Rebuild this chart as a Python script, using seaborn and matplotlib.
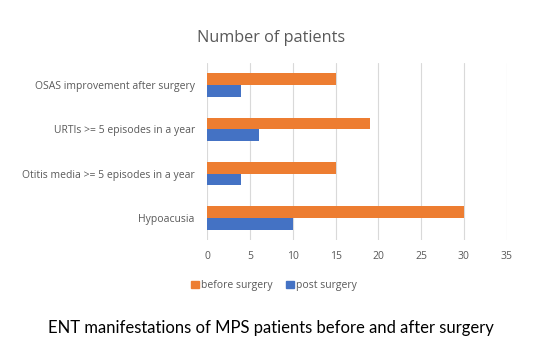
import numpy as np
import pandas as pd
import matplotlib
matplotlib.use("Agg")
import matplotlib.pyplot as plt
import seaborn as sns

categories = ["OSAS improvement after surgery", "URTIs >= 5 episodes in a year",
              "Otitis media >= 5 episodes in a year", "Hypoacusia"]
before_surgery = [15, 19, 15, 30]
post_surgery = [4, 6, 4, 10]
series_names = ["before surgery", "post surgery"]
x_ticks = [0, 5, 10, 15, 20, 25, 30, 35]

df = pd.DataFrame({
    "category": categories * 2,
    "value": before_surgery + post_surgery,
    "series": [series_names[0]] * 4 + [series_names[1]] * 4,
})

sns.set_style("white")
plt.rcParams["font.family"] = ["Open Sans", "DejaVu Sans"]
grey = "#595959"
colors = {"before surgery": "#ED7D31", "post surgery": "#4472C4"}

fig = plt.figure(figsize=(5.44, 3.57), dpi=100)
ax = fig.add_axes([0.381, 0.3277, 0.5504, 0.4958])

sns.barplot(data=df, x="value", y="category", hue="series", order=categories,
            hue_order=series_names, palette=colors, width=0.53, orient="h",
            saturation=1, linewidth=0, ax=ax, legend=False)

ax.set_xlim(0, 35)
ax.set_xticks(x_ticks)
ax.grid(axis="x", color="#d9d9d9", linewidth=0.8)
ax.set_axisbelow(True)
for s in ax.spines.values():
    s.set_visible(False)
ax.tick_params(axis="both", length=0, labelsize=7.5, labelcolor=grey)
ax.tick_params(axis="x", pad=8)
ax.tick_params(axis="y", pad=9)
ax.set_xlabel("")
ax.set_ylabel("")

fig.text(0.498, 0.893, "Number of patients", ha="center", va="center",
         fontsize=11.7, color=grey)

handles = [plt.Rectangle((0, 0), 1, 1, color=colors[n]) for n in series_names]
fig.legend(handles, series_names, loc="center", bbox_to_anchor=(0.504, 0.2),
           ncol=2, frameon=False, fontsize=7.5, labelcolor=grey,
           handlelength=0.7, handleheight=0.7, handletextpad=0.25, columnspacing=1.3)

fig.text(0.498, 0.081, "ENT manifestations of MPS patients before and after surgery",
         ha="center", va="center", fontsize=12, color="black", family=["Lato", "DejaVu Sans"])

fig.savefig("out.png", dpi=100)
